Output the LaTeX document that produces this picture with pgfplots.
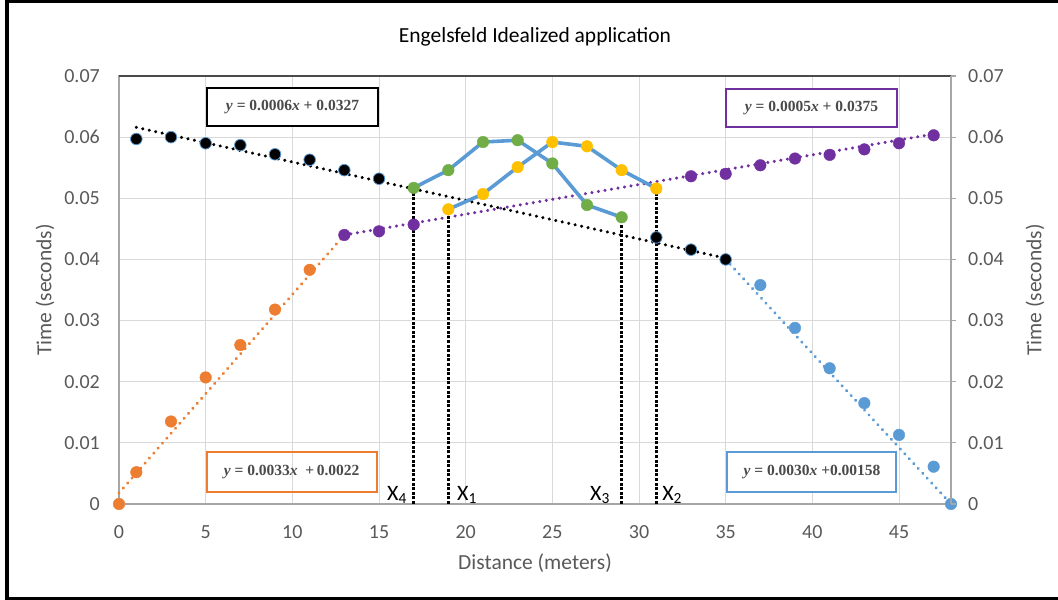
\documentclass[border=0pt]{standalone}
\usepackage{pgfplots}
\pgfplotsset{compat=1.18}
\usepackage{fontspec}
\setmainfont{Carlito}
\newfontfamily\eqfont{Liberation Serif}
\definecolor{txtgray}{HTML}{595959}
\definecolor{gridgray}{HTML}{D9D9D9}
\definecolor{axgray}{HTML}{A6A6A6}
\definecolor{xlorange}{HTML}{ED7D31}
\definecolor{xlblue}{HTML}{5B9BD5}
\definecolor{xlgreen}{HTML}{70AD47}
\definecolor{xlyellow}{HTML}{FFC000}
\definecolor{xlpurple}{HTML}{7030A0}
\definecolor{eqtxt}{HTML}{4A4A4A}
\tikzset{
  mytrend/.style={line width=3.4bp, line cap=round, dash pattern=on 0.01bp off 6.6bp},
  myvline/.style={draw=black, line width=3bp, dash pattern=on 3bp off 1.6bp},
  eqbox/.style={line width=2bp, text=eqtxt, font=\eqfont\bfseries\fontsize{15.5bp}{17bp}\selectfont},
  xlab/.style={anchor=base west, inner sep=0pt, font=\fontsize{22bp}{24bp}\selectfont},
}
\begin{document}
\begin{tikzpicture}
\useasboundingbox (0,0) rectangle (1058bp,600bp);
\draw[line width=3.5bp] (7bp,0bp) -- (7bp,600bp);
\draw[line width=3bp] (7bp,598.5bp) -- (1058bp,598.5bp);
\draw[line width=3bp] (7bp,1.5bp) -- (1058bp,1.5bp);
\node[font=\fontsize{21.5bp}{24bp}\selectfont, text=black] at (535bp,563bp) {Engelsfeld Idealized application};
\begin{axis}[
  at={(119bp,96bp)}, anchor=south west,
  scale only axis, width=832bp, height=428bp,
  xmin=0, xmax=48, ymin=0, ymax=0.07,
  xtick={0,5,...,45},
  ytick={0,0.01,0.02,0.03,0.04,0.05,0.06,0.07},
  yticklabels={0,0.01,0.02,0.03,0.04,0.05,0.06,0.07},
  scaled y ticks=false,
  ytick pos=left, xtick pos=bottom,
  major tick length=0pt,
  grid=major,
  major grid style={draw=gridgray, line width=1bp},
  axis line style={draw=axgray, line width=1.6bp},
  /pgf/number format/assume math mode=true,
  ticklabel style={font=\fontsize{20bp}{22bp}\selectfont, text=txtgray, inner sep=0pt},
  yticklabel style={anchor=east, xshift=-19bp},
  xticklabel style={anchor=north, yshift=-21bp},
  xlabel={Distance (meters)},
  ylabel={Time (seconds)},
  label style={font=\fontsize{21.5bp}{24bp}\selectfont, text=txtgray},
  xlabel style={at={(axis description cs:0.5,-0.1379)}, anchor=center},
  ylabel style={at={(axis description cs:-0.0889,0.5)}, anchor=center},
  clip=false,
]
% trendlines
\addplot[mytrend, draw=xlorange, mark=none] coordinates {(0,0.0018) (13,0.0440)};
\addplot[mytrend, draw=black, mark=none] coordinates {(1,0.0616) (35,0.0402)};
\addplot[mytrend, draw=xlpurple, mark=none] coordinates {(13,0.0440) (47,0.0605)};
\addplot[mytrend, draw=xlblue, mark=none] coordinates {(35,0.0400) (48,0.0)};
% vertical dashed lines
\addplot[myvline, mark=none] coordinates {(17,0) (17,0.0517)};
\addplot[myvline, mark=none] coordinates {(19,0) (19,0.0482)};
\addplot[myvline, mark=none] coordinates {(29,0) (29,0.0469)};
\addplot[myvline, mark=none] coordinates {(31,0) (31,0.0516)};
% markers
\addplot[only marks, mark=*, mark size=5.8bp, mark options={fill=xlorange, draw=xlorange}] coordinates {
 (0,0) (1,0.0052) (3,0.0135) (5,0.0207) (7,0.0260) (9,0.0318) (11,0.0383)};
\addplot[only marks, mark=*, mark size=5.8bp, mark options={fill=xlpurple, draw=xlpurple}] coordinates {
 (13,0.0440) (15,0.0446) (17,0.0457) (33,0.0536) (35,0.0540) (37,0.0554) (39,0.0565) (41,0.0571) (43,0.0580) (45,0.0590) (47,0.0603)};
\addplot[only marks, mark=*, mark size=5.8bp, mark options={fill=xlblue, draw=xlblue}] coordinates {
 (37,0.0358) (39,0.0288) (41,0.0222) (43,0.0165) (45,0.0113) (47,0.0061) (48,0)};
\addplot[only marks, mark=*, mark size=5.8bp, mark options={fill=black, draw=xlblue, line width=0.8bp}] coordinates {
 (1,0.0597) (3,0.0600) (5,0.0590) (7,0.0587) (9,0.0572) (11,0.0563) (13,0.0546) (15,0.0532) (31,0.0436) (33,0.0416) (35,0.0400)};
% curves
\addplot[draw=xlblue, line width=3.6bp, mark=*, mark size=5.8bp, mark options={fill=xlgreen, draw=xlgreen, line width=0.4bp}] coordinates {
 (17,0.0517) (19,0.0546) (21,0.0592) (23,0.0595) (25,0.0557) (27,0.0489) (29,0.0469)};
\addplot[draw=xlblue, line width=3.6bp, mark=*, mark size=5.8bp, mark options={fill=xlyellow, draw=xlyellow, line width=0.4bp}] coordinates {
 (19,0.0482) (21,0.0507) (23,0.0551) (25,0.0592) (27,0.0585) (29,0.0546) (31,0.0516)};
% X labels
\node[xlab] at (axis cs:15.46,0.00065) {X\textsubscript{4}};
\node[xlab] at (axis cs:19.5,0.00065) {X\textsubscript{1}};
\node[xlab] at (axis cs:27.17,0.00065) {X\textsubscript{3}};
\node[xlab] at (axis cs:31.33,0.00065) {X\textsubscript{2}};
% equation boxes
\node[eqbox, draw=black, fill=white, minimum width=171bp, minimum height=38bp] at (axis cs:10.01,0.0649) {\textit{y} = 0.0006\textit{x} + 0.0327};
\node[eqbox, draw=xlpurple, fill=white, minimum width=171bp, minimum height=38bp] at (axis cs:39.95,0.0648) {\textit{y} = 0.0005\textit{x} + 0.0375};
\node[eqbox, draw=xlorange, minimum width=170bp, minimum height=40bp] at (axis cs:9.96,0.00528) {\textit{y} = 0.0033\textit{x} \ +\,0.0022};
\node[eqbox, draw=xlblue, fill=white, minimum width=169bp, minimum height=40bp] at (axis cs:39.98,0.0052) {\textit{y} = 0.0030\textit{x} +0.00158};
\draw[draw=eqtxt, line width=2bp] (axis cs:0,0.07) -- (axis cs:48,0.07);
\end{axis}
\begin{axis}[
  at={(119bp,96bp)}, anchor=south west,
  scale only axis, width=832bp, height=428bp,
  xmin=0, xmax=48, ymin=0, ymax=0.07,
  axis x line=none, axis y line*=right,
  ytick={0,0.01,0.02,0.03,0.04,0.05,0.06,0.07},
  yticklabels={0,0.01,0.02,0.03,0.04,0.05,0.06,0.07},
  scaled y ticks=false,
  tick align=outside, major tick length=5bp,
  tick style={draw=axgray, line width=1.2bp},
  axis line style={draw=axgray, line width=1.6bp},
  ticklabel style={font=\fontsize{20bp}{22bp}\selectfont, text=txtgray, inner sep=0pt},
  yticklabel style={anchor=west, xshift=12bp},
  ylabel={Time (seconds)},
  label style={font=\fontsize{21.5bp}{24bp}\selectfont, text=txtgray},
  ylabel style={at={(axis description cs:1.101,0.5)}, anchor=center},
]
\addplot[draw=none, mark=none] coordinates {(0,0) (48,0.07)};
\end{axis}
\end{tikzpicture}
\end{document}
